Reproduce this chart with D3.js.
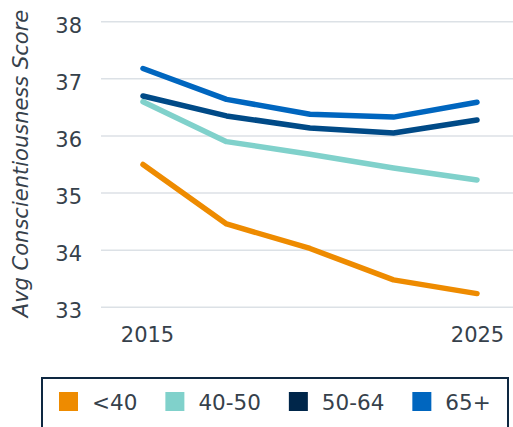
<!DOCTYPE html>
<html>
<head>
<meta charset="utf-8">
<script src="https://cdn.jsdelivr.net/npm/d3@7"></script>
<style>
  body { margin: 0; background: #fff; }
  svg { display: block; font-family: "DejaVu Sans", Verdana, sans-serif; }
</style>
</head>
<body>
<svg id="chart" width="513" height="427"></svg>
<script>
// data
const years = [2015, 2017.5, 2020, 2022.5, 2025];
const groups = ["<40", "40-50", "50-64", "65+"];
const under40 = [35.50, 34.46, 34.03, 33.48, 33.24];
const age40to50 = [36.60, 35.90, 35.68, 35.44, 35.23];
const age50to64 = [36.70, 36.35, 36.14, 36.05, 36.28];
const over65 = [37.18, 36.64, 36.38, 36.33, 36.59];
const yTicks = [33, 34, 35, 36, 37, 38];
const xTicks = [2015, 2025];

const lineColors = ["#EE8B00", "#80D1CB", "#004A87", "#0066BF"];
const legendColors = ["#EE8B00", "#80D1CB", "#00264A", "#0066BF"];
const textColor = "#36414B";

const series = [under40, age40to50, age50to64, over65];

const svg = d3.select("#chart");

const x = d3.scaleLinear().domain([2015, 2025]).range([143, 477]);
const y = d3.scaleLinear().domain([33, 38]).range([307.3, 21.7]);

// gridlines
svg.append("g")
  .selectAll("line")
  .data(yTicks)
  .join("line")
  .attr("x1", 101)
  .attr("x2", 513)
  .attr("y1", d => y(d))
  .attr("y2", d => y(d))
  .attr("stroke", "#DCE1E6")
  .attr("stroke-width", 1.5);

// y axis labels
const yAxis = svg.append("g")
  .attr("transform", "translate(82,0)")
  .call(d3.axisLeft(y).tickValues(yTicks).tickFormat(d3.format("d")).tickSize(0).tickPadding(0));
yAxis.select(".domain").remove();
yAxis.selectAll("text")
  .attr("font-size", 21)
  .attr("font-family", "DejaVu Sans, Verdana, sans-serif")
  .attr("fill", textColor)
  .attr("dy", "0.5em");

// x axis labels
const xAxis = svg.append("g")
  .attr("transform", "translate(0,307)")
  .call(d3.axisBottom(x).tickValues(xTicks).tickFormat(d3.format("d")).tickSize(0).tickPadding(0));
xAxis.select(".domain").remove();
xAxis.selectAll("text")
  .attr("font-size", 21)
  .attr("font-family", "DejaVu Sans, Verdana, sans-serif")
  .attr("fill", textColor)
  .attr("y", 35)
  .attr("dy", 0)
  .attr("dx", (d, i) => i === 0 ? 4 : 0);

// y axis title
svg.append("text")
  .attr("transform", "translate(28,163.5) rotate(-90)")
  .attr("text-anchor", "middle")
  .attr("font-size", 21)
  .attr("font-style", "italic")
  .attr("fill", textColor)
  .text("Avg Conscientiousness Score");

// lines
const line = d3.line()
  .x((d, i) => x(years[i]))
  .y(d => y(d));

svg.append("g")
  .selectAll("path")
  .data(series)
  .join("path")
  .attr("d", line)
  .attr("fill", "none")
  .attr("stroke", (d, i) => lineColors[i])
  .attr("stroke-width", 5.5)
  .attr("stroke-linecap", "round")
  .attr("stroke-linejoin", "round");

// legend
svg.append("rect")
  .attr("x", 42)
  .attr("y", 378)
  .attr("width", 466)
  .attr("height", 54)
  .attr("fill", "#fff")
  .attr("stroke", "#0E2841")
  .attr("stroke-width", 2);

const legend = svg.append("g");
let lx = 59;
groups.forEach((g, i) => {
  legend.append("rect")
    .attr("x", lx)
    .attr("y", 392)
    .attr("width", 19)
    .attr("height", 19)
    .attr("fill", legendColors[i]);
  const t = legend.append("text")
    .attr("x", lx + 33)
    .attr("y", 409.5)
    .attr("font-size", 21.5)
    .attr("fill", textColor)
    .text(g);
  lx += 33 + t.node().getComputedTextLength() + 28;
});
</script>
</body>
</html>
